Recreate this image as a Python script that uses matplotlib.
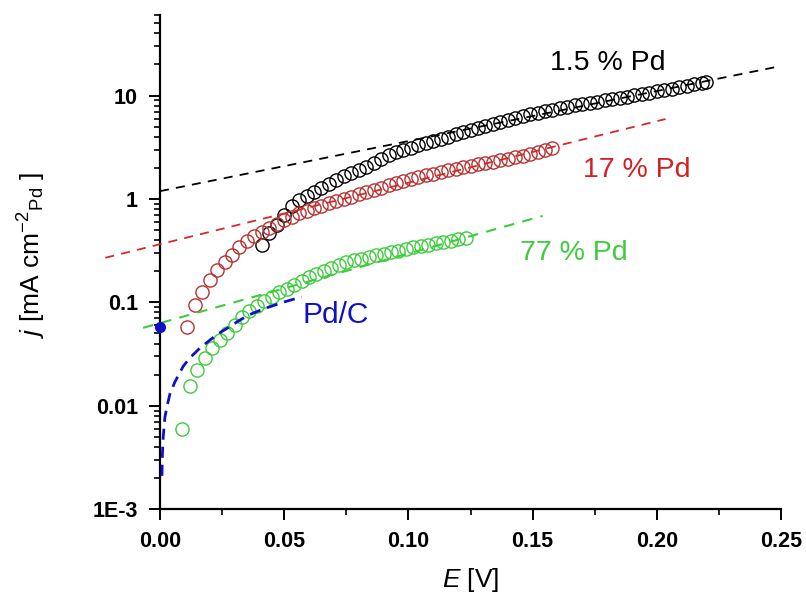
import matplotlib
matplotlib.use('Agg')
import matplotlib.pyplot as plt
from matplotlib.ticker import FixedLocator, LogLocator, NullFormatter, MultipleLocator

plt.rcParams['font.family'] = ['Liberation Sans', 'DejaVu Sans']
plt.rcParams['mathtext.fontset'] = 'custom'
plt.rcParams['mathtext.rm'] = 'Liberation Sans'
plt.rcParams['mathtext.it'] = 'Liberation Sans:italic'

# 1.5 % Pd
E_15 = [0.041, 0.044, 0.047, 0.050, 0.053, 0.056, 0.059, 0.062, 0.065, 0.068,
        0.071, 0.074, 0.077, 0.080, 0.083, 0.086, 0.089, 0.092, 0.095, 0.098,
        0.101, 0.104, 0.107, 0.110, 0.113, 0.116, 0.119, 0.122, 0.125, 0.128,
        0.131, 0.134, 0.137, 0.140, 0.143, 0.146, 0.149, 0.152, 0.155, 0.158,
        0.161, 0.164, 0.167, 0.170, 0.173, 0.176, 0.179, 0.182, 0.185, 0.188,
        0.191, 0.194, 0.197, 0.200, 0.203, 0.206, 0.209, 0.212, 0.215, 0.218, 0.220]
j_15 = [0.36, 0.47, 0.56, 0.70, 0.86, 0.97, 1.07, 1.18, 1.29, 1.41,
        1.53, 1.66, 1.79, 1.92, 2.05, 2.25, 2.45, 2.64, 2.83, 2.98,
        3.13, 3.29, 3.46, 3.63, 3.82, 4.01, 4.21, 4.41, 4.62, 4.84,
        5.07, 5.32, 5.57, 5.84, 6.10, 6.32, 6.56, 6.80, 7.05, 7.31,
        7.59, 7.80, 8.02, 8.25, 8.49, 8.73, 8.98, 9.24, 9.50, 9.77,
        10.07, 10.4, 10.7, 11.0, 11.4, 11.7, 12.1, 12.5, 12.9, 13.3, 13.5]

# 17 % Pd
E_17 = [0.011, 0.014, 0.017, 0.020, 0.023, 0.026, 0.029, 0.032, 0.035, 0.038,
        0.041, 0.044, 0.047, 0.050, 0.053, 0.056, 0.059, 0.062, 0.065, 0.068,
        0.071, 0.074, 0.077, 0.080, 0.083, 0.086, 0.089, 0.092, 0.095, 0.098,
        0.101, 0.104, 0.107, 0.110, 0.113, 0.116, 0.119, 0.122, 0.125, 0.128,
        0.131, 0.134, 0.137, 0.140, 0.143, 0.146, 0.149, 0.152, 0.155, 0.158]
j_17 = [0.058, 0.095, 0.125, 0.165, 0.205, 0.245, 0.29, 0.34, 0.39, 0.44,
        0.48, 0.525, 0.57, 0.62, 0.675, 0.73, 0.77, 0.81, 0.86, 0.91,
        0.955, 1.00, 1.05, 1.11, 1.16, 1.22, 1.29, 1.35, 1.42, 1.49,
        1.55, 1.62, 1.69, 1.76, 1.84, 1.91, 1.97, 2.03, 2.09, 2.16,
        2.22, 2.29, 2.37, 2.44, 2.52, 2.63, 2.74, 2.85, 2.97, 3.09]

# 77 % Pd
E_77 = [0.009, 0.012, 0.015, 0.018, 0.021, 0.024, 0.027, 0.030, 0.033, 0.036,
        0.039, 0.042, 0.045, 0.048, 0.051, 0.054, 0.057, 0.060, 0.063, 0.066,
        0.069, 0.072, 0.075, 0.078, 0.081, 0.084, 0.087, 0.090, 0.093, 0.096,
        0.099, 0.102, 0.105, 0.108, 0.111, 0.114, 0.117, 0.120, 0.123]
j_77 = [0.006, 0.0155, 0.022, 0.029, 0.036, 0.043, 0.051, 0.060, 0.072, 0.082,
        0.092, 0.102, 0.112, 0.125, 0.136, 0.148, 0.162, 0.176, 0.19, 0.203,
        0.216, 0.231, 0.246, 0.255, 0.264, 0.274, 0.284, 0.294, 0.305, 0.316,
        0.328, 0.34, 0.35, 0.361, 0.372, 0.383, 0.395, 0.407, 0.42]

# Pd/C curve
E_pdc = [0.0008, 0.0010, 0.0013, 0.0020, 0.0028, 0.0040, 0.0060, 0.0093, 0.012,
         0.016, 0.020, 0.023, 0.028, 0.032, 0.036, 0.042, 0.050, 0.057]
j_pdc = [0.0021, 0.0035, 0.005, 0.0078, 0.0098, 0.013, 0.017, 0.024, 0.029,
         0.036, 0.043, 0.049, 0.058, 0.067, 0.076, 0.087, 0.101, 0.113]
E_pdc_dot = [0.0]
j_pdc_dot = [0.058]

# linear (Tafel) fits: end points
E_fit_15 = [0.0, 0.2476]
j_fit_15 = [1.19, 18.8]
E_fit_17 = [-0.022, 0.2035]
j_fit_17 = [0.27, 5.93]
E_fit_77 = [-0.0068, 0.154]
j_fit_77 = [0.0567, 0.685]

c_black = '#000000'
c_red = '#b83232'
c_red_line = '#d42a2a'
c_green = '#3ccc3c'
c_blue = '#1010c8'

fig = plt.figure(figsize=(8.06, 6.04), dpi=100)
ax = fig.add_axes([0.1985, 0.157, 0.7705, 0.818])

ms = 9.5
ax.plot(E_15, j_15, 'o', mfc='none', mec=c_black, ms=ms, mew=1.0, zorder=3)
ax.plot(E_17, j_17, 'o', mfc='none', mec=c_red, ms=ms, mew=1.0, zorder=3)
ax.plot(E_77, j_77, 'o', mfc='none', mec=c_green, ms=ms, mew=1.0, zorder=3)

ax.plot(E_fit_15, j_fit_15, '--', color=c_black, lw=1.3, dashes=(5, 4), clip_on=False, zorder=4)
ax.plot(E_fit_17, j_fit_17, '--', color=c_red_line, lw=1.3, dashes=(5, 4), clip_on=False, zorder=4)
ax.plot(E_fit_77, j_fit_77, '--', color=c_green, lw=1.5, dashes=(5, 4), clip_on=False, zorder=4)

ax.plot(E_pdc, j_pdc, '--', color=c_blue, lw=2.0, dashes=(4, 2.5), zorder=5)
ax.plot(E_pdc_dot, j_pdc_dot, 'o', color=c_blue, ms=7, clip_on=False, zorder=6)

ax.set_yscale('log')
ax.set_xlim(0, 0.25)
ax.set_ylim(1e-3, 60)

xt = [0.0, 0.05, 0.10, 0.15, 0.20, 0.25]
ax.set_xticks(xt)
ax.set_xticklabels(['0.00', '0.05', '0.10', '0.15', '0.20', '0.25'])
ax.xaxis.set_minor_locator(MultipleLocator(0.025))

yt = [1e-3, 1e-2, 1e-1, 1, 10]
ax.yaxis.set_major_locator(FixedLocator(yt))
ax.set_yticklabels(['1E-3', '0.01', '0.1', '1', '10'])
ax.yaxis.set_minor_locator(LogLocator(base=10, subs=range(2, 10), numticks=20))
ax.yaxis.set_minor_formatter(NullFormatter())

for lab in ax.get_xticklabels() + ax.get_yticklabels():
    lab.set_fontweight('bold')
    lab.set_fontsize(15.5)

ax.spines['top'].set_visible(False)
ax.spines['right'].set_visible(False)
ax.spines['left'].set_linewidth(1.6)
ax.spines['bottom'].set_linewidth(1.6)
ax.tick_params(which='major', direction='out', length=8, width=1.4, pad=8)
ax.tick_params(which='minor', direction='out', length=4.5, width=1.2)

ax.set_xlabel('$\\mathit{E}$ [V]', fontsize=19)
ax.set_ylabel('$\\mathit{j}$ [mA cm$^{-2}$$_{\\mathrm{Pd}}$ ]', fontsize=19)
ax.xaxis.set_label_coords(0.5, -0.115)
ax.yaxis.set_label_coords(-0.18, 0.514)

ax.text(0.1804, 20.6, '1.5 % Pd', color=c_black, fontsize=20.5, ha='center', va='center')
ax.text(0.192, 1.91, '17 % Pd', color='#d42020', fontsize=20.5, ha='center', va='center')
ax.text(0.1667, 0.30, '77 % Pd', color=c_green, fontsize=20.5, ha='center', va='center')
ax.text(0.0572, 0.0757, 'Pd/C', color=c_blue, fontsize=21.5, ha='left', va='center')

plt.savefig('out.png', dpi=100)
